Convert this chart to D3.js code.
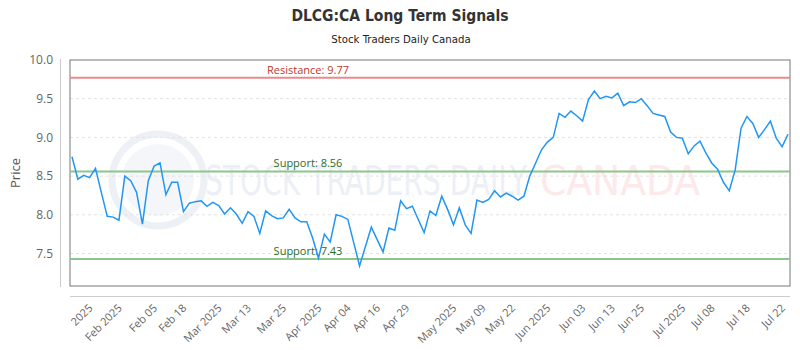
<!DOCTYPE html>
<html>
<head>
<meta charset="utf-8">
<script src="https://cdn.jsdelivr.net/npm/d3@7"></script>
<style>
  body { margin: 0; background: #fff; }
  svg { display: block; font-family: "Open Sans", sans-serif; }
</style>
</head>
<body>
<div id="chart"></div>
<script>
// price series, one per trading day
var prices = [8.75, 8.46, 8.51, 8.48, 8.60, 8.29, 7.98, 7.97, 7.93, 8.50,
  8.44, 8.29, 7.88, 8.44, 8.63, 8.67, 8.26, 8.42, 8.42, 8.04,
  8.15, 8.17, 8.18, 8.11, 8.16, 8.12, 8.01, 8.09, 8.01, 7.89,
  8.04, 7.98, 7.76, 8.05, 7.99, 7.95, 7.96, 8.07, 7.96, 7.91,
  7.91, 7.70, 7.44, 7.75, 7.65, 8.00, 7.98, 7.94, 7.64, 7.34,
  7.59, 7.84, 7.68, 7.52, 7.83, 7.80, 8.18, 8.08, 8.11, 7.94,
  7.77, 8.05, 7.99, 8.24, 8.07, 7.87, 8.09, 7.87, 7.76, 8.19,
  8.16, 8.20, 8.31, 8.23, 8.28, 8.24, 8.19, 8.24, 8.50, 8.67,
  8.84, 8.94, 9.00, 9.31, 9.26, 9.34, 9.28, 9.21, 9.49, 9.60,
  9.50, 9.53, 9.51, 9.57, 9.41, 9.46, 9.45, 9.50, 9.41, 9.31,
  9.29, 9.27, 9.07, 9.00, 8.99, 8.79, 8.89, 8.95, 8.80, 8.67,
  8.59, 8.42, 8.31, 8.58, 9.12, 9.27, 9.18, 9.00, 9.10, 9.21,
  8.99, 8.88, 9.04];

var tickLabels = ["2025", "Feb 2025", "Feb 05", "Feb 18", "Mar 2025", "Mar 13", "Mar 25",
  "Apr 2025", "Apr 04", "Apr 16", "Apr 29", "May 2025", "May 09", "May 22", "Jun 2025",
  "Jun 03", "Jun 13", "Jun 25", "Jul 2025", "Jul 08", "Jul 18", "Jul 22"];
var tickIndex = [3, 8, 14, 19, 25, 30, 36, 42, 47, 52, 57, 65, 70, 75, 81, 87, 92, 97, 104, 109, 115, 121];

var yTicks = [7.5, 8.0, 8.5, 9.0, 9.5, 10.0];

var levelNames = ["Resistance", "Support", "Support"];
var levelValues = [9.77, 8.56, 7.43];

var svgWidth = 800, svgHeight = 350;
var plot = {left: 70, right: 790, top: 60, bottom: 286};

var svg = d3.select("#chart").append("svg")
  .attr("width", svgWidth)
  .attr("height", svgHeight);

var x = d3.scaleLinear().domain([0, prices.length - 1]).range([plot.left + 2, plot.right - 2]);
var y = d3.scaleLinear().domain([7.08, 10.0]).range([plot.bottom, plot.top]);

var condensed = '"Liberation Sans Narrow", "DejaVu Sans Condensed", "Roboto", sans-serif';

// titles
svg.append("text")
  .attr("x", 400).attr("y", 21)
  .attr("text-anchor", "middle")
  .style("font-family", condensed)
  .style("font-weight", "bold")
  .style("font-size", "15.5px")
  .attr("fill", "#333")
  .text("DLCG:CA Long Term Signals");

svg.append("text")
  .attr("x", 401).attr("y", 43)
  .attr("text-anchor", "middle")
  .style("font-family", condensed)
  .style("font-size", "11.3px")
  .attr("fill", "#222")
  .text("Stock Traders Daily Canada");

// watermark
var wm = svg.append("g").attr("opacity", 0.42);
wm.append("circle").attr("cx", 158).attr("cy", 180).attr("r", 46)
  .attr("fill", "none").attr("stroke", "#d6dfeb").attr("stroke-width", 7);
wm.append("circle").attr("cx", 158).attr("cy", 180).attr("r", 36)
  .attr("fill", "#e6ecf4");
wm.append("text").attr("x", 205).attr("y", 195)
  .attr("textLength", 322).attr("lengthAdjust", "spacingAndGlyphs")
  .style("font-family", condensed).style("font-size", "40px")
  .attr("fill", "#d3dceb").text("STOCK TRADERS DAILY");
wm.append("text").attr("x", 540).attr("y", 195)
  .attr("textLength", 160).attr("lengthAdjust", "spacingAndGlyphs")
  .style("font-family", condensed).style("font-size", "40px")
  .attr("fill", "#fbcccc").text("CANADA");

// dashed grid
svg.append("g").selectAll("line")
  .data(yTicks.filter(d => d < 10))
  .enter().append("line")
  .attr("x1", plot.left).attr("x2", plot.right)
  .attr("y1", d => y(d)).attr("y2", d => y(d))
  .attr("stroke", "#e2e2e2")
  .attr("stroke-dasharray", "3,3");

// plot frame
svg.append("rect")
  .attr("x", plot.left).attr("y", plot.top)
  .attr("width", plot.right - plot.left).attr("height", plot.bottom - plot.top)
  .attr("fill", "none").attr("stroke", "#777").attr("stroke-width", 1);

// outer axis lines
svg.append("line").attr("x1", 60.5).attr("x2", 60.5).attr("y1", plot.top - 1).attr("y2", plot.bottom + 1)
  .attr("stroke", "#ccc");
svg.append("line").attr("x1", plot.left).attr("x2", plot.right).attr("y1", 296.5).attr("y2", 296.5)
  .attr("stroke", "#ccc");

// y tick labels
svg.append("g").selectAll("text")
  .data(yTicks)
  .enter().append("text")
  .attr("x", 53).attr("y", d => y(d))
  .attr("dy", "0.35em")
  .attr("text-anchor", "end")
  .style("font-size", "12px")
  .attr("fill", "#666")
  .text(d => d3.format(".1f")(d));

svg.append("text")
  .attr("transform", "translate(20," + ((plot.top + plot.bottom) / 2) + ") rotate(-90)")
  .attr("text-anchor", "middle")
  .style("font-size", "13px")
  .attr("fill", "#555")
  .text("Price");

// x tick labels
svg.append("g").selectAll("text")
  .data(tickIndex)
  .enter().append("text")
  .attr("transform", (d) => "translate(" + (x(d) + 1) + ",306) rotate(-45)")
  .attr("dy", "0.35em")
  .attr("text-anchor", "end")
  .style("font-size", "11px")
  .attr("fill", "#666")
  .text((d, i) => tickLabels[i]);

// resistance / support levels
var levelColors = ["#e98b8b", "#8cc68c", "#8cc68c"];
var textColors = ["#c0392b", "#2e6b2e", "#2e6b2e"];
levelValues.forEach(function(v, i) {
  svg.append("line")
    .attr("x1", plot.left).attr("x2", plot.right)
    .attr("y1", y(v)).attr("y2", y(v))
    .attr("stroke", levelColors[i]).attr("stroke-width", 2);
  svg.append("text")
    .attr("x", 308).attr("y", y(v) - 4)
    .attr("text-anchor", "middle")
    .style("font-size", "11px")
    .attr("fill", textColors[i])
    .text(levelNames[i] + ": " + v.toFixed(2));
});

// price line
var line = d3.line().x((d, i) => x(i)).y(d => y(d));
svg.append("path")
  .datum(prices)
  .attr("d", line)
  .attr("fill", "none")
  .attr("stroke", "#2196f3")
  .attr("stroke-width", 1.5);
</script>
</body>
</html>
